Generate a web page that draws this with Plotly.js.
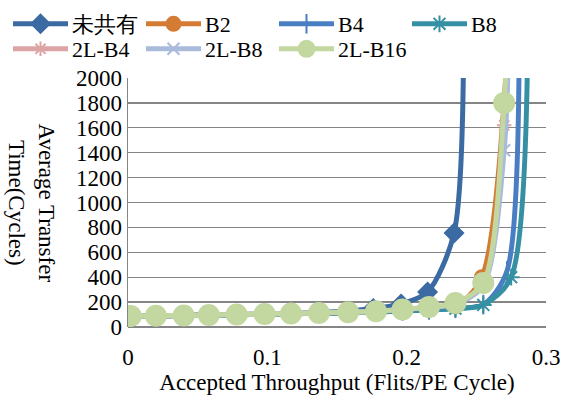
<!DOCTYPE html>
<html>
<head>
<meta charset="utf-8">
<script src="https://cdn.plot.ly/plotly-3.0.1.min.js"></script>
<style>html,body{margin:0;padding:0;background:#fff;}#chart{width:564px;height:398px;}</style>
</head>
<body>
<div id="chart"></div>
<script>
// Series names
const seriesNames = ["未共有", "B2", "B4", "B8", "2L-B4", "2L-B8", "2L-B16"];

// Accepted throughput (x) and average transfer time (y) for each series
const xNoShare = [0.002,0.020,0.040,0.058,0.078,0.098,0.117,0.137,0.158,0.176,0.196,0.215,0.234,0.241];
const yNoShare = [88,90,93,96,100,104,109,116,128,148,185,281,755,2500];

const xB2 = [0.002,0.020,0.040,0.058,0.078,0.098,0.117,0.137,0.158,0.178,0.197,0.216,0.235,0.254,0.279];
const yB2 = [88,90,92,95,98,102,106,110,115,121,130,140,165,400,3800];

const xB4 = [0.002,0.020,0.040,0.058,0.078,0.098,0.117,0.137,0.158,0.178,0.197,0.216,0.235,0.255,0.272,0.280];
const yB4 = [88,90,92,95,98,102,106,110,115,121,130,138,150,180,450,3800];

const xB8 = [0.002,0.020,0.040,0.058,0.078,0.098,0.117,0.137,0.158,0.178,0.197,0.216,0.235,0.255,0.275,0.287];
const yB8 = [88,90,92,95,98,102,106,110,115,120,128,136,148,177,400,3800];

const x2LB4 = [0.002,0.020,0.040,0.058,0.078,0.098,0.117,0.137,0.158,0.178,0.197,0.216,0.235,0.255,0.270,0.274];
const y2LB4 = [88,90,93,96,100,104,108,113,119,127,140,158,185,340,1620,3000];

const x2LB8 = [0.002,0.020,0.040,0.058,0.078,0.098,0.117,0.137,0.158,0.178,0.197,0.216,0.235,0.255,0.270,0.274];
const y2LB8 = [88,90,93,96,100,104,108,113,119,127,140,158,185,335,1420,3000];

const x2LB16 = [0.002,0.020,0.040,0.058,0.078,0.098,0.117,0.137,0.158,0.178,0.197,0.216,0.235,0.255,0.270,0.273];
const y2LB16 = [88,90,93,96,100,104,108,113,119,127,140,160,193,353,1800,3000];

const xTickVals = [0, 0.1, 0.2, 0.3];
const xTickText = ["0", "0.1", "0.2", "0.3"];
const yTickVals = [0,200,400,600,800,1000,1200,1400,1600,1800,2000];

const colors = ["#3C6AA3", "#D47B34", "#4A7EC2", "#3690A3", "#DCA4A4", "#A9BADB", "#C3D7A0"];
const symbols = ["diamond", "circle", "line-ns", "asterisk-open", "asterisk-open", "x-thin-open", "circle"];
const sizes = [14, 14, 14, 14, 12, 12, 20];
const xs = [xNoShare, xB2, xB4, xB8, x2LB4, x2LB8, x2LB16];
const ys = [yNoShare, yB2, yB4, yB8, y2LB4, y2LB8, y2LB16];

const font = "Liberation Serif";
const W = 564, H = 398;

// legend grid: 4 columns x 2 rows, one Plotly legend per entry
const legendColStart = 8, legendColStep = 133;
const legendRowTop = [3, 28];

const traces = seriesNames.map((n, i) => ({
  type: "scatter",
  mode: "lines+markers",
  name: n,
  legend: i === 0 ? "legend" : "legend" + (i + 1),
  x: xs[i],
  y: ys[i],
  line: {color: colors[i], width: 5, shape: "spline", smoothing: 0.8},
  marker: {symbol: symbols[i], size: sizes[i], color: colors[i], line: {color: colors[i], width: 2}}
}));

const layout = {
  width: W, height: H,
  margin: {l: 128, r: 18, t: 78, b: 71},
  paper_bgcolor: "#fff", plot_bgcolor: "#fff",
  font: {family: font, size: 23, color: "#000"},
  showlegend: true,
  xaxis: {
    range: [0, 0.3], tickvals: xTickVals, ticktext: xTickText, automargin: false,
    showgrid: false, zeroline: false, showline: false, ticks: "",
    ticklabelstandoff: 14,
    tickfont: {family: font, size: 23, color: "#000"},
    title: {text: "Accepted Throughput (Flits/PE Cycle)", font: {family: font, size: 23, color: "#000"}, standoff: 0}
  },
  yaxis: {
    range: [0, 2000], tickvals: yTickVals, automargin: false,
    showgrid: true, gridcolor: "#858585", gridwidth: 1.3,
    zeroline: true, zerolinecolor: "#858585", zerolinewidth: 1.3,
    showline: true, linecolor: "#858585", linewidth: 1.3, ticks: "",
    tickfont: {family: font, size: 23, color: "#000"}
  },
  annotations: [{
    text: "Average Transfer<br>Time(Cycles)",
    xref: "paper", yref: "paper", x: -0.232, y: 0.5,
    xanchor: "center", yanchor: "middle",
    textangle: 90, showarrow: false,
    font: {family: font, size: 23, color: "#000"}
  }]
};

seriesNames.forEach((n, i) => {
  const col = i < 4 ? i : i - 4;
  const row = i < 4 ? 0 : 1;
  layout[i === 0 ? "legend" : "legend" + (i + 1)] = {
    orientation: "h", xref: "container", yref: "container",
    x: (legendColStart + col * legendColStep) / W,
    y: 1 - legendRowTop[row] / H,
    xanchor: "left", yanchor: "top",
    itemwidth: 54,
    font: {family: font, size: 22, color: "#000"},
    bgcolor: "rgba(0,0,0,0)"
  };
});

Plotly.newPlot("chart", traces, layout, {displayModeBar: false, staticPlot: true}).then(gd => {
  // lengthen the legend line samples to match the reference legend style
  gd.querySelectorAll('.legendlines path').forEach(p => p.setAttribute('d', 'M5,0h55'));
  gd.querySelectorAll('.legendpoints path').forEach(p => p.setAttribute('transform', 'translate(32.5,0)'));
});
</script>
</body>
</html>
